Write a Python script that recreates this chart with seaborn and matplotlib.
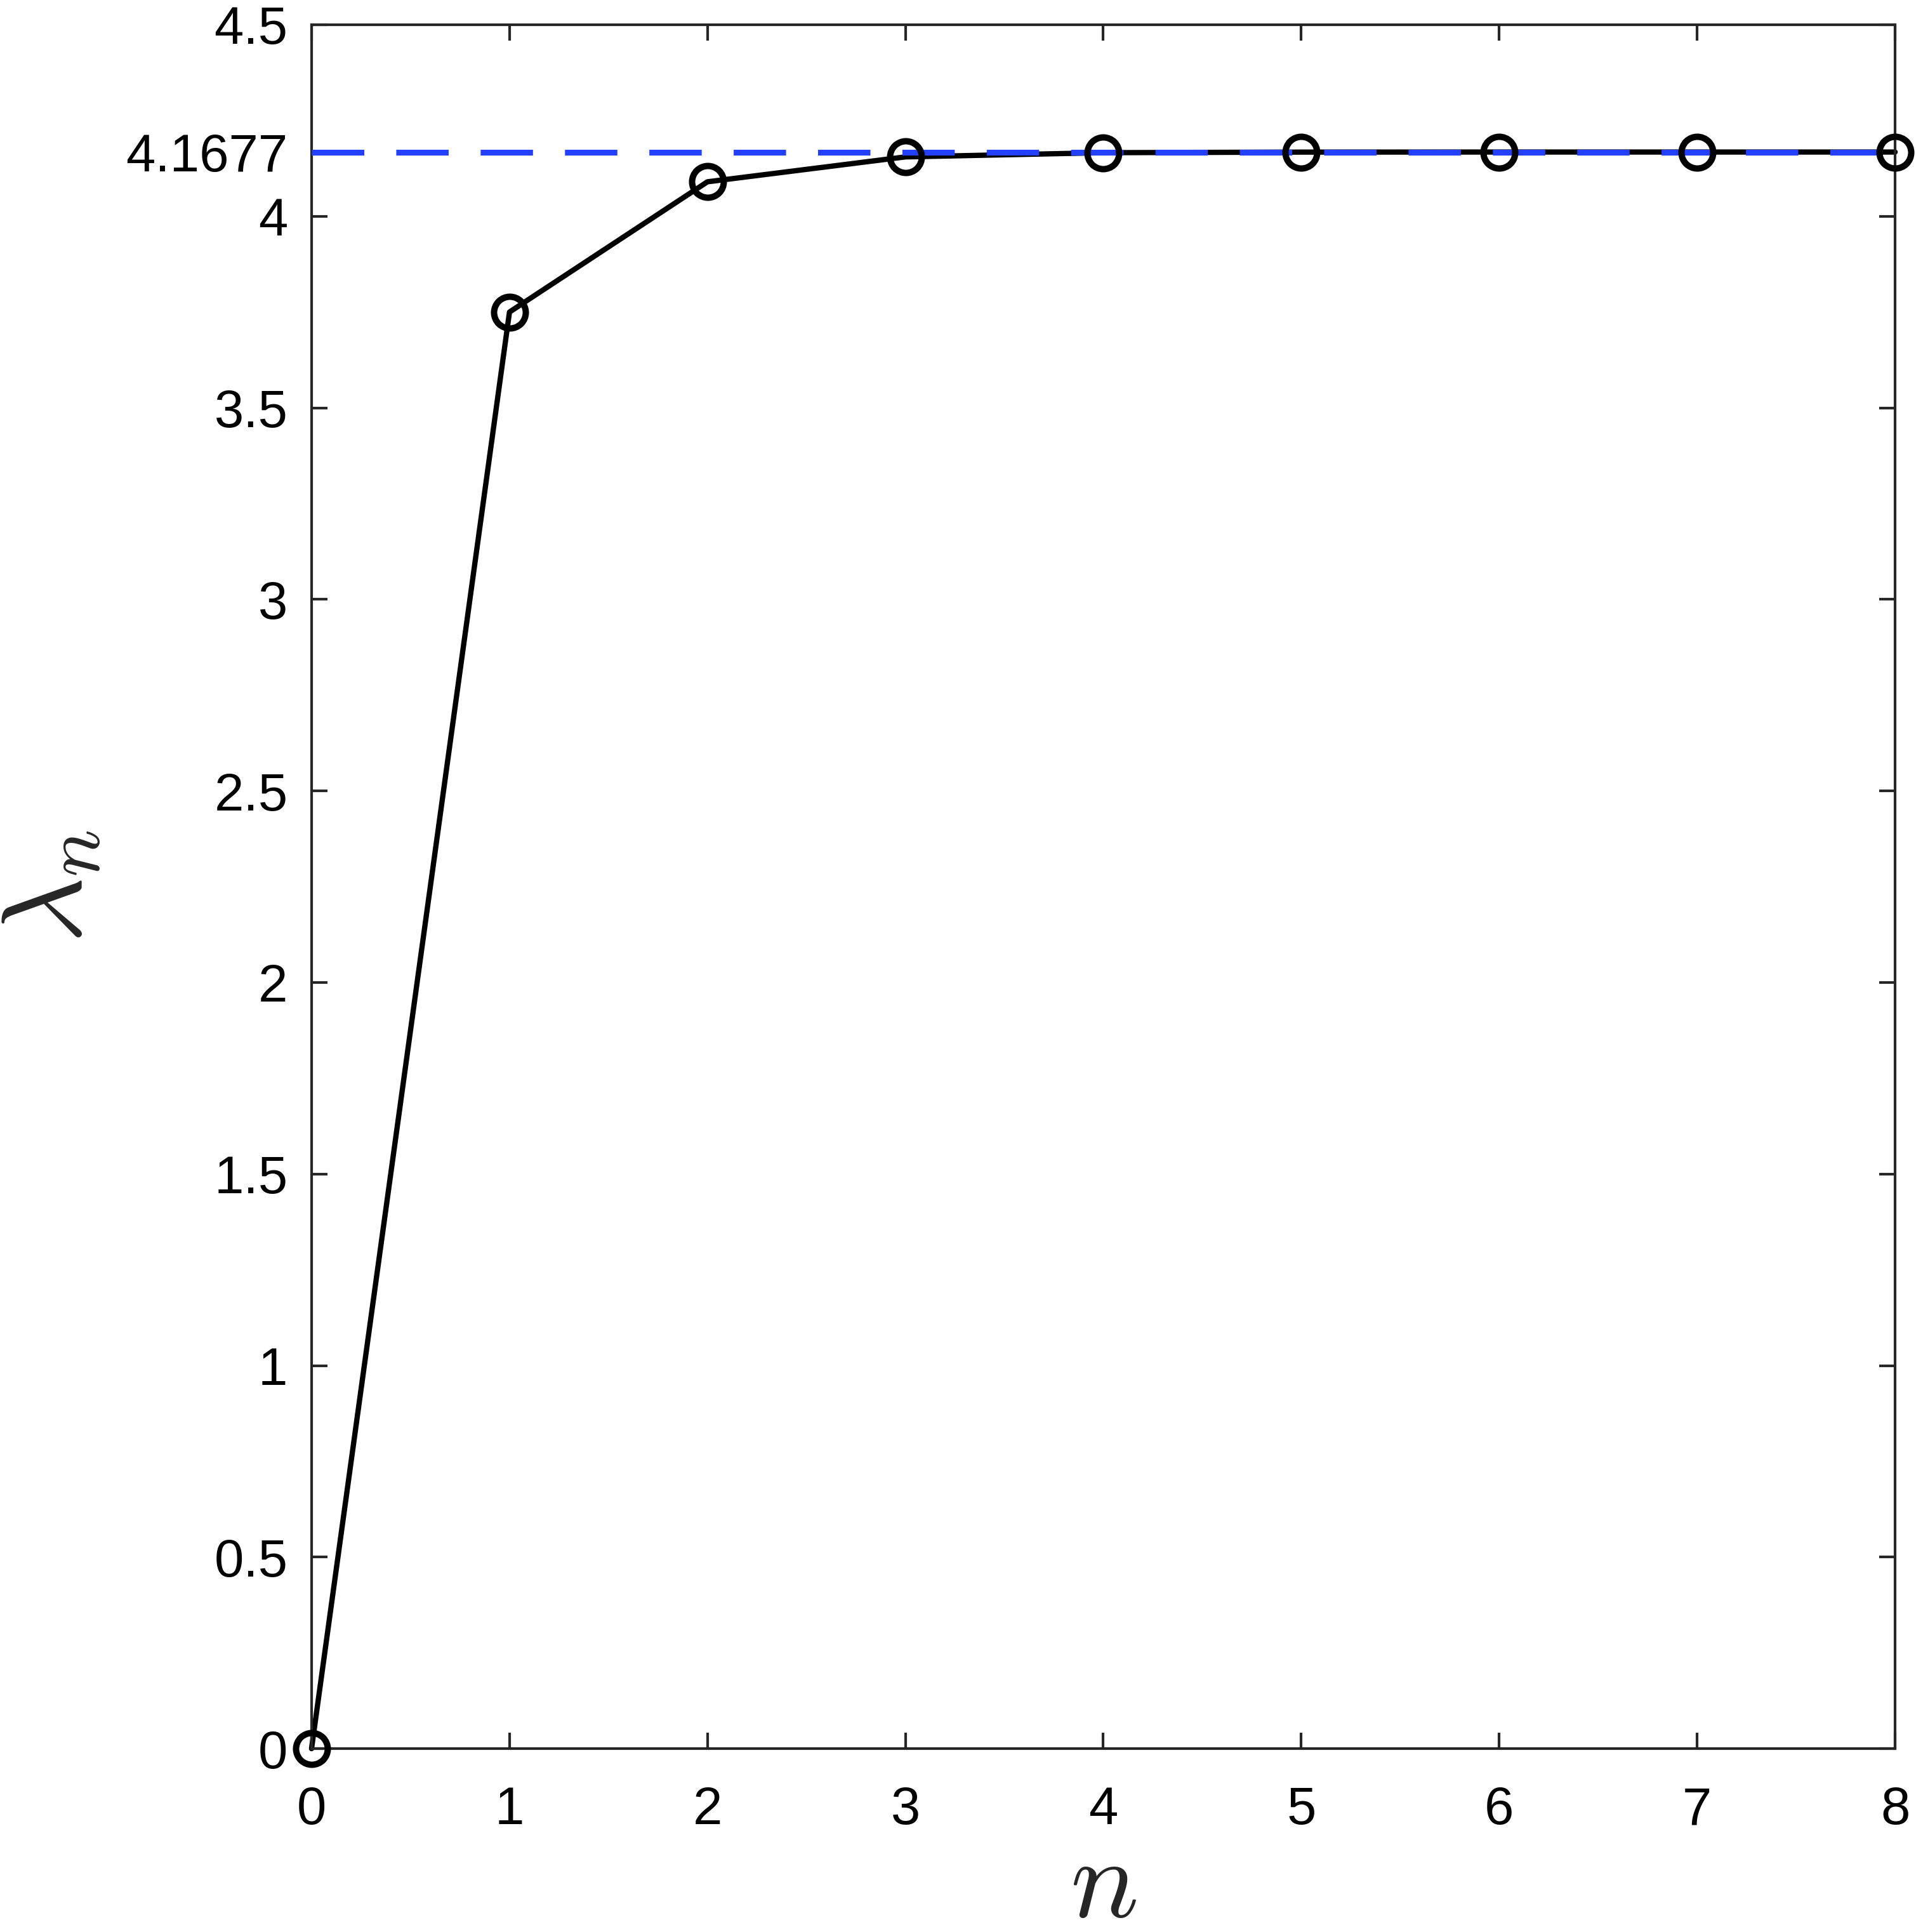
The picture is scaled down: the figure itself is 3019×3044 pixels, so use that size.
import numpy as np
import pandas as pd
import seaborn as sns
import matplotlib.pyplot as plt

# values
n_vals = [0, 1, 2, 3, 4, 5, 6, 7, 8]
lam_vals = [0.0, 3.75, 4.09, 4.155, 4.166, 4.1675, 4.1677, 4.1677, 4.1677]
lam_limit = 4.1677
y_ticks = [0, 0.5, 1, 1.5, 2, 2.5, 3, 3.5, 4, 4.5]
x_ticks = [0, 1, 2, 3, 4, 5, 6, 7, 8]

sns.set_style("ticks")
plt.rcParams['font.family'] = ['Liberation Sans', 'DejaVu Sans']
plt.rcParams['mathtext.fontset'] = 'cm'

data = pd.DataFrame({'n': n_vals, 'lam': lam_vals})

fig = plt.figure(figsize=(3019 / 300, 3044 / 300), dpi=300)
ax = fig.add_axes([0.1626, 0.0949, 0.8265, 0.8923])

# line, then dashed limit, then open circles on top
sns.lineplot(data=data, x='n', y='lam', ax=ax, color='black', linewidth=2.0,
             clip_on=False, zorder=2)
ax.axhline(lam_limit, color='#2340ff', linewidth=2.2, dashes=(9, 5.5), zorder=3)
sns.lineplot(data=data, x='n', y='lam', ax=ax, color='black', linestyle='',
             marker='o', markersize=12, markerfacecolor='none',
             markeredgecolor='black', markeredgewidth=2.4, clip_on=False, zorder=4)

ax.set_xlim(0, 8)
ax.set_ylim(0, 4.5)
ax.set_xticks(x_ticks)
ax.set_xticklabels([str(v) for v in x_ticks])
ax.set_yticks(y_ticks + [lam_limit])
ax.set_yticklabels([f'{v:g}' for v in y_ticks] + ['4.1677'])

ax.tick_params(direction='in', length=6, width=1.0, labelsize=20, colors='#262626',
               labelcolor='black', top=True, right=True)
ax.tick_params(axis='x', pad=14)
ax.tick_params(axis='y', pad=9)
for s in ax.spines.values():
    s.set_linewidth(1.0)
    s.set_color('#262626')

ax.set_xlabel('$n$', fontsize=43, labelpad=0)
ax.set_ylabel(r'$\lambda_n$', fontsize=43, labelpad=8)

fig.savefig('out.png', dpi=300)
